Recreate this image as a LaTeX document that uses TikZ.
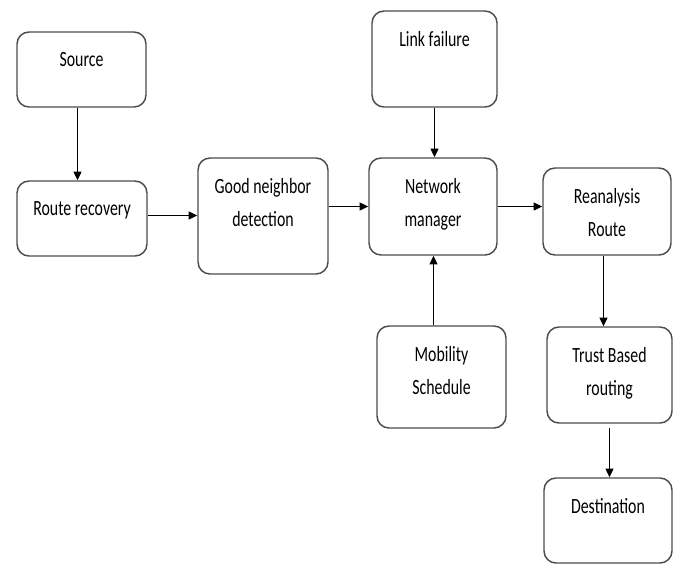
\documentclass[tikz,border=0pt]{standalone}
\usepackage{fontspec}
\setmainfont{Carlito}[FakeStretch=0.73]
\usetikzlibrary{arrows.meta}

\begin{document}
\begin{tikzpicture}[x=0.75pt, y=-0.75pt, >={Triangle[length=6.5pt,width=6pt]}]

    \tikzset{%
    every box/.style={
        draw=black!70,
        line width=1.1pt,
        rounded corners=9pt,
        fill=white,
        inner sep=0pt
        },
    box text/.style={
        anchor=north,
        yshift=-16pt,
        align=center,
        inner sep=0pt,
        font=\fontsize{16.3}{24.7}\selectfont
        },
    flow/.style={->, line width=0.9pt, black},
    }

    \useasboundingbox (0,0) rectangle (678,565);

    % Left column
    \node [every box, minimum width=96.75pt, minimum height=56.25pt,
        label={[box text]north:Source}] (source) at (81.5,69.5) {};
    \node [every box, minimum width=97.5pt, minimum height=56.25pt,
        label={[box text]north:Route recovery}] (recovery) at (82,218.5) {};

    % Middle
    \node [every box, minimum width=97.5pt, minimum height=87pt,
        label={[box text]north:Good neighbor\\detection}] (neighbor) at (263,216) {};
    \node [every box, minimum width=93.75pt, minimum height=72pt,
        label={[box text]north:Link failure}] (failure) at (434.5,59) {};
    \node [every box, minimum width=96pt, minimum height=72.75pt,
        label={[box text]north:Network\\manager}] (manager) at (433,206.5) {};
    \node [every box, minimum width=96.75pt, minimum height=76.5pt,
        label={[box text]north:Mobility\\Schedule}] (mobility) at (441.5,377) {};

    % Right column
    \node [every box, minimum width=96pt, minimum height=65.25pt,
        label={[box text]north:Reanalysis\\Route}] (reanalysis) at (607,211.5) {};
    \node [every box, minimum width=93.75pt, minimum height=72pt,
        label={[box text]north:Trust Based\\routing}] (trust) at (609.5,375) {};
    \node [every box, minimum width=96pt, minimum height=63.75pt,
        label={[box text]north:Destination}] (destination) at (608,520.5) {};

    % Connections
    \draw [flow] ([xshift=-3pt]source.south) -- ([xshift=-3pt]source.south |- recovery.north);
    \draw [flow] ([yshift=2.25pt]recovery.east) -- ([yshift=2.25pt]recovery.east -| neighbor.west);
    \draw [flow] (neighbor.east |- manager) -- (manager.west);
    \draw [flow] (failure.south) -- (failure.south |- manager.north);
    \draw [flow] ([xshift=0.375pt]manager.south |- mobility.north) -- ([xshift=0.375pt]manager.south);
    \draw [flow] (manager.east) -- (manager.east -| reanalysis.west);
    \draw [flow] ([xshift=-2.625pt]reanalysis.south) -- ([xshift=-2.625pt]reanalysis.south |- trust.north);
    \draw [flow] ([yshift=-3.5pt]trust.south) -- (trust.south |- destination.north);

\end{tikzpicture}
\end{document}
